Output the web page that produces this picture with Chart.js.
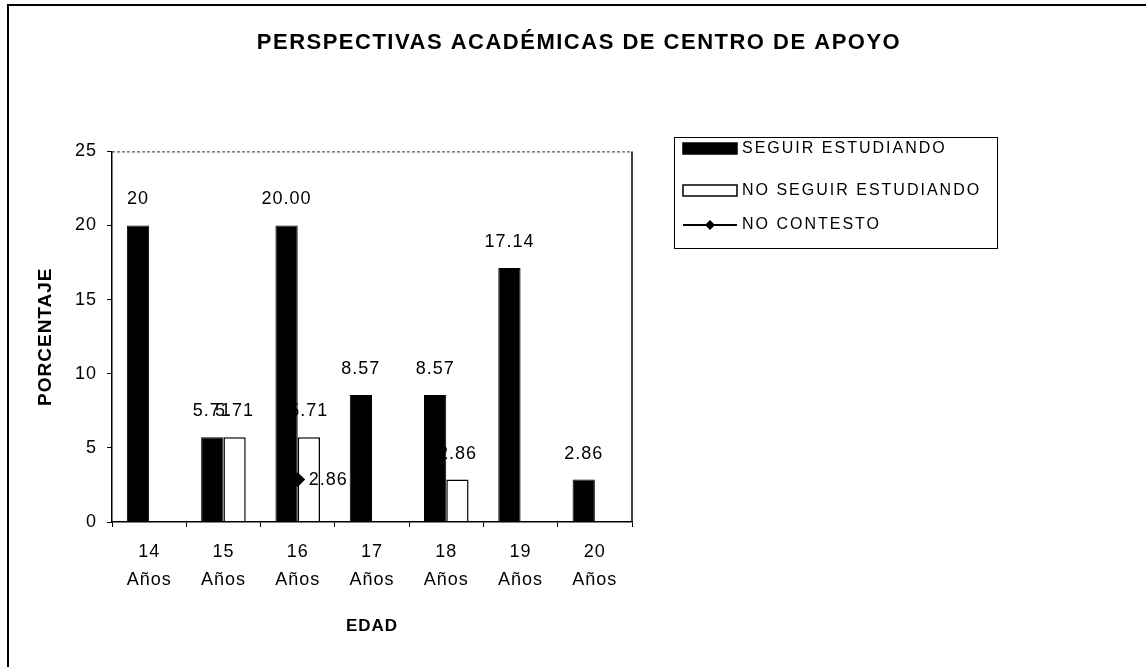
<!DOCTYPE html>
<html>
<head>
<meta charset="utf-8">
<title>Perspectivas académicas de centro de apoyo</title>
<script src="https://cdn.jsdelivr.net/npm/chart.js@4.4.1/dist/chart.umd.min.js"></script>
<style>
  html, body { margin: 0; padding: 0; background: #fff; }
  #wrap { width: 1146px; height: 667px; }
</style>
</head>
<body>
<div id="wrap"><canvas id="chart" width="1146" height="667"></canvas></div>
<script>
const ages = ["14", "15", "16", "17", "18", "19", "20"];
const seguir = [20, 5.71, 20, 8.57, 8.57, 17.14, 2.86];
const noSeguir = [0, 5.71, 5.71, 0, 2.86, 0, 0];
const noContesto = [null, null, 2.86, null, null, null, null];
const seguirLabels = ["20", "5.71", "20.00", "8.57", "8.57", "17.14", "2.86"];
const noSeguirLabels = [null, "5.71", "5.71", null, "2.86", null, null];
const noContestoLabels = [null, null, "2.86", null, null, null, null];
const yTicks = [0, 5, 10, 15, 20, 25];

const FONT = "'Liberation Sans', Arial, sans-serif";

// white page, outer frame, letter spacing for the scanned look
const pagePlugin = {
  id: "page",
  beforeDraw(chart) {
    const ctx = chart.ctx;
    ctx.save();
    ctx.fillStyle = "#fff";
    ctx.fillRect(0, 0, chart.width, chart.height);
    ctx.strokeStyle = "#000";
    ctx.lineWidth = 2;
    ctx.beginPath();
    ctx.moveTo(8, chart.height);
    ctx.lineTo(8, 5);
    ctx.lineTo(chart.width, 5);
    ctx.stroke();
    ctx.restore();
    ctx.letterSpacing = "1.5px";
  },
  beforeDatasetsDraw(chart) {
    const ctx = chart.ctx;
    const a = chart.chartArea;
    ctx.letterSpacing = "1px";
    ctx.save();
    ctx.strokeStyle = "#333";
    ctx.lineWidth = 1;
    ctx.setLineDash([3, 2]);
    ctx.beginPath();
    ctx.moveTo(a.left, a.top + 0.5);
    ctx.lineTo(a.right, a.top + 0.5);
    ctx.stroke();
    ctx.setLineDash([]);
    ctx.strokeStyle = "#000";
    ctx.lineWidth = 1.5;
    ctx.beginPath();
    ctx.moveTo(a.right, a.top);
    ctx.lineTo(a.right, a.bottom);
    ctx.stroke();
    ctx.restore();
  },
  afterDatasetsDraw(chart) {
    const ctx = chart.ctx;
    ctx.save();
    ctx.fillStyle = "#000";
    ctx.font = "18px " + FONT;
    ctx.textBaseline = "middle";
    chart.data.datasets.forEach((ds, i) => {
      const meta = chart.getDatasetMeta(i);
      meta.data.forEach((el, j) => {
        const txt = ds.valueLabels[j];
        if (!txt) return;
        if (ds.type === "line") {
          ctx.textAlign = "left";
          ctx.fillText(txt, el.x + 11, el.y);
        } else {
          ctx.textAlign = "center";
          ctx.fillText(txt, el.x, el.y - 26);
        }
      });
    });
    ctx.restore();
  },
  afterDraw(chart) {
    const ctx = chart.ctx;
    ctx.save();
    ctx.strokeStyle = "#000";
    ctx.lineWidth = 1;
    ctx.strokeRect(674.5, 137.5, 323, 111);
    const rows = [149, 191, 225];
    ctx.font = "16px " + FONT;
    ctx.letterSpacing = "2px";
    ctx.textBaseline = "middle";
    ctx.textAlign = "left";
    chart.data.datasets.forEach((ds, i) => {
      const y = rows[i];
      if (ds.type === "line") {
        ctx.lineWidth = 2;
        ctx.beginPath();
        ctx.moveTo(683, y);
        ctx.lineTo(737, y);
        ctx.stroke();
        ctx.fillStyle = "#000";
        ctx.beginPath();
        ctx.moveTo(710, y - 5);
        ctx.lineTo(715, y);
        ctx.lineTo(710, y + 5);
        ctx.lineTo(705, y);
        ctx.closePath();
        ctx.fill();
      } else {
        ctx.fillStyle = ds.backgroundColor;
        ctx.fillRect(683, y - 6, 54, 11);
        ctx.lineWidth = 1.5;
        ctx.strokeRect(683, y - 6, 54, 11);
      }
      ctx.fillStyle = "#000";
      ctx.fillText(ds.label, 742, y);
    });
    ctx.restore();
    ctx.letterSpacing = "0px";
  }
};

new Chart(document.getElementById("chart"), {
  type: "bar",
  data: {
    labels: ages.map((a) => [a, "Años"]),
    datasets: [
      {
        label: "SEGUIR ESTUDIANDO",
        data: seguir,
        valueLabels: seguirLabels,
        backgroundColor: "#000",
        borderColor: "#000",
        borderWidth: 1,
        categoryPercentage: 0.6,
        barPercentage: 1.0,
        order: 1,
      },
      {
        label: "NO SEGUIR ESTUDIANDO",
        data: noSeguir,
        valueLabels: noSeguirLabels,
        backgroundColor: "#fff",
        borderColor: "#000",
        borderWidth: 1.5,
        categoryPercentage: 0.6,
        barPercentage: 1.0,
        order: 1,
      },
      {
        type: "line",
        label: "NO CONTESTO",
        data: noContesto,
        valueLabels: noContestoLabels,
        borderColor: "#000",
        backgroundColor: "#000",
        borderWidth: 2,
        pointStyle: "rectRot",
        pointRadius: 6,
        spanGaps: false,
        order: 0,
      },
    ],
  },
  options: {
    responsive: false,
    animation: false,
    layout: { padding: { left: 12, right: 0, top: 0, bottom: 20 } },
    scales: {
      x: {
        grid: { display: true, drawOnChartArea: false, offset: true, tickLength: 5, color: "#000", z: 1 },
        border: { color: "#000", width: 1.5, z: 1 },
        ticks: {
          color: "#000",
          font: { family: FONT, size: 18, lineHeight: 1.55 },
          padding: 11,
          maxRotation: 0,
          autoSkip: false,
          z: 1,
        },
        title: {
          display: true,
          text: "EDAD",
          color: "#000",
          font: { family: FONT, size: 17, weight: "bold" },
          padding: { top: 0, bottom: 10 },
        },
        afterFit(s) { s.height = 125; },
      },
      y: {
        min: 0,
        max: 25,
        afterBuildTicks(s) { s.ticks = yTicks.map((v) => ({ value: v })); },
        grid: { drawOnChartArea: false, tickLength: 5, color: "#000", z: 1 },
        border: { color: "#000", width: 1.5, z: 1 },
        ticks: { color: "#000", font: { family: FONT, size: 18 }, padding: 10, z: 1 },
        title: {
          display: true,
          text: "PORCENTAJE",
          color: "#000",
          font: { family: FONT, size: 19, weight: "bold" },
          padding: { top: 22, bottom: 0 },
        },
        afterFit(s) { s.width = 100; },
      },
      yRight: {
        position: "right",
        grid: { display: false },
        border: { display: false },
        ticks: { display: false },
        afterFit(s) { s.width = 514; },
      },
    },
    plugins: {
      legend: { display: false },
      tooltip: { enabled: false },
      title: {
        display: true,
        text: "PERSPECTIVAS ACADÉMICAS DE CENTRO DE APOYO",
        color: "#000",
        font: { family: FONT, size: 22, weight: "bold" },
        padding: { top: 30, bottom: 95 },
      },
    },
  },
  plugins: [pagePlugin],
});
</script>
</body>
</html>
